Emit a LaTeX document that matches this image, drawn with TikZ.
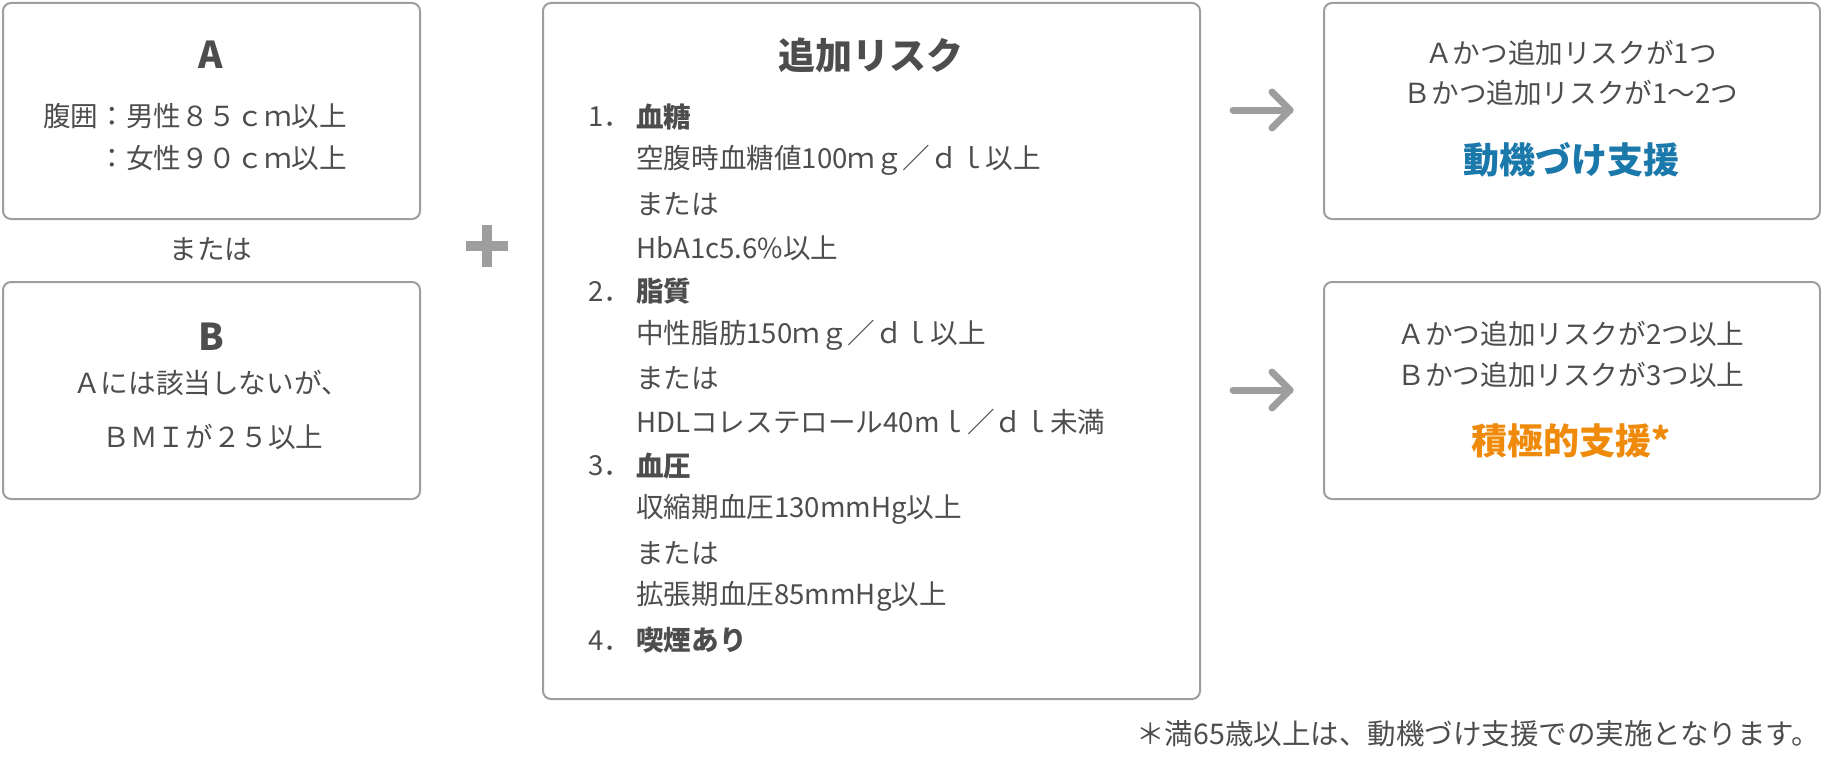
\documentclass[tikz,border=0pt]{standalone}
\usepackage{fontspec}
\setmainfont{Noto Sans CJK JP}
\definecolor{txt}{HTML}{4D4D4D}
\definecolor{frame}{HTML}{9E9E9E}
\definecolor{blueT}{HTML}{1B78AA}
\definecolor{orangeT}{HTML}{EF8A0A}
\begin{document}
\begin{tikzpicture}[x=1pt,y=-1pt,
  box/.style={draw=frame, line width=2pt, rounded corners=8pt, anchor=north west, inner sep=0pt},
  body/.style={text=txt, font=\fontsize{27.6}{32}\selectfont, inner sep=0pt},
  note/.style={text=txt, font=\fontsize{28.5}{32}\selectfont, inner sep=0pt},
  ttl/.style={text=txt, font=\fontsize{37}{40}\selectfont\bfseries, inner sep=0pt},
  big/.style={font=\fontsize{36}{40}\selectfont\bfseries, inner sep=0pt},
  arr/.style={draw=frame, line width=7pt, line cap=round, line join=round}]
\useasboundingbox (0,0) rectangle (1821,760);
% boxes
\node[box, minimum width=417pt, minimum height=216pt] (boxA) at (2,2) {};
\node[box, minimum width=417pt, minimum height=217pt] (boxB) at (2,281) {};
\node[box, minimum width=657pt, minimum height=696pt] (boxR) at (542,2) {};
\node[box, minimum width=496pt, minimum height=216pt] (boxM) at (1323,2) {};
\node[box, minimum width=496pt, minimum height=217pt] (boxS) at (1323,281) {};
% box A
\node[ttl] (tA) at (211,55) {A};
\node[body, anchor=west] (a1) at (43,116) {腹囲：男性８５ｃｍ以上};
\node[body, anchor=west] (a2) at (43,158) {\phantom{腹囲}：女性９０ｃｍ以上};
\node[body] (or1) at (211,249) {または};
% box B
\node[ttl] (tB) at (211,337) {B};
\node[body] (b1) at (211,383) {Ａには該当しないが、};
\node[body] (b2) at (213,437) {ＢＭＩが２５以上};
% plus
\coordinate (plus) at (487,246);
\draw[draw=frame, line width=10pt] (plus) ++(-21,0) -- ++(42,0) (plus) ++(0,-21) -- ++(0,42);
% middle box
\node[ttl] (tR) at (871,55) {追加リスク};
\foreach \i/\n/\t in {0/1．/{\bfseries 血糖}, 1//空腹時血糖値100ｍｇ／ｄｌ以上, 2//または, 3//HbA1c5.6\%以上,
  4/2．/{\bfseries 脂質}, 5//中性脂肪150ｍｇ／ｄｌ以上, 6//または, 7//HDLコレステロール40mｌ／ｄｌ未満,
  8/3．/{\bfseries 血圧}, 9//収縮期血圧130mmHg以上, 10//または, 11//拡張期血圧85mmHg以上,
  12/4．/{\bfseries 喫煙あり}}{
  \node[body, anchor=west] (r\i) at (636,117+43.6*\i) {\t};
  \node[body, anchor=west] (n\i) at (588,117+43.6*\i) {\n};
}
% arrows
\coordinate (ar1s) at (1233,110);
\coordinate (ar1e) at (1290,110);
\coordinate (ar2s) at (1233,390);
\coordinate (ar2e) at (1290,390);
\draw[arr] (ar1s) -- (ar1e);
\draw[arr] (ar1e) ++(-18,-18) -- (ar1e) -- ++(-18,18);
\draw[arr] (ar2s) -- (ar2e);
\draw[arr] (ar2e) ++(-18,-18) -- (ar2e) -- ++(-18,18);
% right box 1
\node[body] (m1) at (1571,53) {Ａかつ追加リスクが1つ};
\node[body] (m2) at (1571,93) {Ｂかつ追加リスクが1〜2つ};
\node[big, text=blueT] (m3) at (1571,160) {動機づけ支援};
% right box 2
\node[body] (s1) at (1571,334) {Ａかつ追加リスクが2つ以上};
\node[body] (s2) at (1571,375) {Ｂかつ追加リスクが3つ以上};
\node[big, text=orangeT] (s3) at (1571,441) {積極的支援*};
% footnote
\node[note, anchor=east] (fn) at (1820,734) {＊満65歳以上は、動機づけ支援での実施となります。};
\end{tikzpicture}
\end{document}
